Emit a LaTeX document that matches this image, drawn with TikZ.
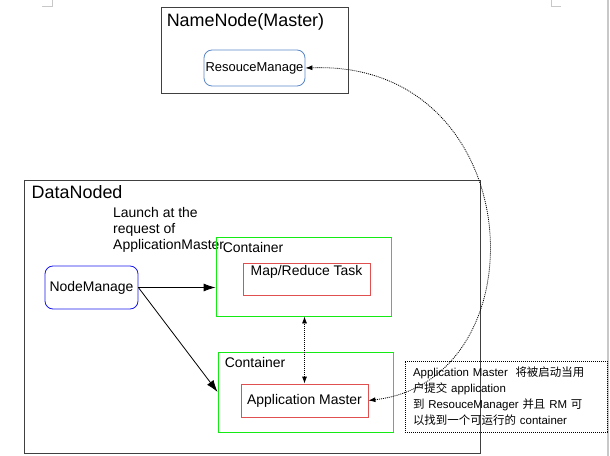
\documentclass[tikz,border=0pt]{standalone}
\usepackage{fontspec}
\setmainfont{Liberation Sans}
\newfontfamily\cjk{Noto Sans CJK SC}
\usetikzlibrary{positioning,arrows.meta}
\definecolor{rmblue}{RGB}{90,135,200}
\definecolor{nmblue}{RGB}{25,25,235}
\definecolor{cgreen}{RGB}{20,235,20}
\definecolor{tred}{RGB}{225,80,80}
\definecolor{pagegray}{RGB}{200,200,200}
\tikzset{
	frame/.style={draw=black!75,line width=0.9bp,inner sep=0pt},
	roundbox/.style={draw,rounded corners=8bp,line width=0.8bp,inner sep=0pt,font=\fontsize{13}{15}\selectfont},
	container/.style={draw=cgreen,line width=0.8bp,inner sep=0pt},
	task/.style={draw=tred,line width=0.8bp,inner sep=0pt,font=\fontsize{14}{16}\selectfont},
	title/.style={inner sep=0pt,font=\fontsize{18}{20}\selectfont},
	small/.style={inner sep=0pt,font=\fontsize{14}{16}\selectfont},
	arr/.style={-{Latex[length=12bp,width=8bp]},line width=0.8bp},
	dotarr/.style={{Latex[length=7bp,width=5bp]}-{Latex[length=7bp,width=5bp]},dash pattern=on 1bp off 1bp,line width=0.8bp}
}
\begin{document}
\begin{tikzpicture}[x=1bp,y=-1bp]
	\useasboundingbox (0,0) rectangle (610,456);
	% page marks
	\draw[pagegray,line width=1bp] (42,7) -- (52,7) -- (52,0);
	\draw[pagegray,line width=1bp] (561,7) -- (551,7) -- (551,0);
	\draw[pagegray,line width=1.5bp] (608,0) -- (608,456);

	% name node
	\node[frame,minimum width=187bp,minimum height=86bp](nn) at (254.5,50){};
	\node[title,anchor=north west](nnt) at ([xshift=6bp,yshift=-7bp]nn.north west){NameNode(Master)};
	\node[roundbox,draw=rmblue,minimum width=101bp,minimum height=36bp](rm) at (254.5,68){ResouceManage};

	% data node
	\node[frame,minimum width=456bp,minimum height=273bp](dn) at (252,316.5){};
	\node[title,anchor=north west](dnt) at ([xshift=8bp,yshift=-6bp]dn.north west){DataNoded};
	\node[small,anchor=north west,align=left](launch) at (113,207){Launch at the\\request of\\ApplicationMaster};
	\node[roundbox,draw=nmblue,font=\fontsize{14}{16}\selectfont,minimum width=93bp,minimum height=43bp](nm) at (91.5,287.5){NodeManage};

	\node[container,minimum width=175bp,minimum height=79bp](c1) at (303.5,276.5){};
	\node[small,anchor=north west](c1t) at ([xshift=7bp,yshift=-5.5bp]c1.north west){Container};
	\node[task,minimum width=127bp,text height=13bp,text depth=19bp](mr) at (306.5,279){Map/Reduce Task};

	\node[container,minimum width=175bp,minimum height=80bp](c2) at (305.5,392){};
	\node[small,anchor=north west](c2t) at ([xshift=7bp,yshift=-6bp]c2.north west){Container};
	\node[task,minimum width=127bp,minimum height=33bp](am) at (304.5,400.5){Application Master};

	% note
	\node[draw,dash pattern=on 1bp off 1bp,line width=0.8bp,minimum width=202bp,minimum height=71bp,
		inner xsep=8bp,text width=186bp,align=left,font=\fontsize{11.5}{16}\selectfont](note) at (506,396.5)
		{Application Master\ \ {\cjk 将被启动当用}\\{\cjk 户提交} application\\{\cjk 到} ResouceManager\ {\cjk 并且} RM {\cjk 可}\\{\cjk 以找到一个可运行的} container};

	% connectors
	\draw[arr](nm.east) -- (nm.east -| c1.west);
	\draw[arr](nm.east) -- (c2.west);
	\draw[dotarr](am.north) -- (am.north |- c1.south);
	\draw[dotarr](am.east) .. controls (545,380) and (530,60) .. (rm.east);
\end{tikzpicture}
\end{document}
